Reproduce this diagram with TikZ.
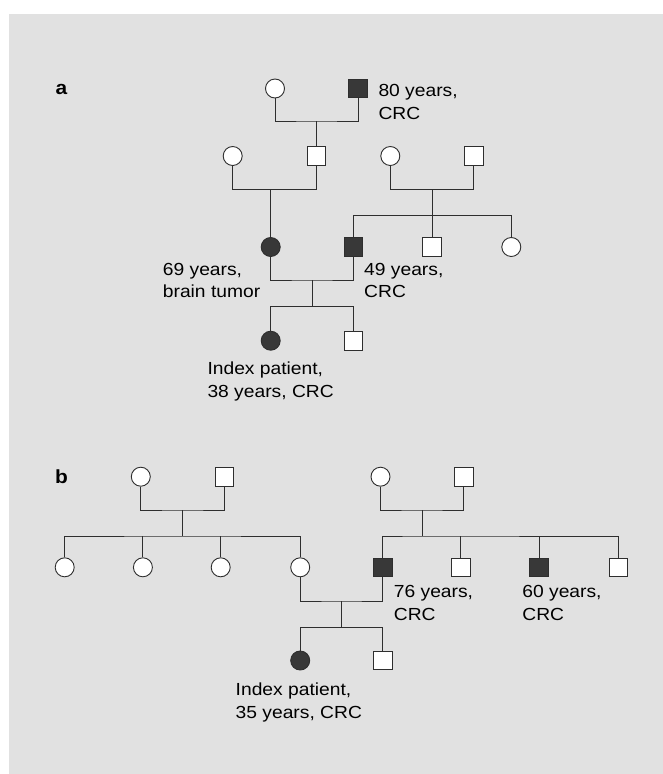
\documentclass[tikz,border=0pt]{standalone}
\usepackage{fontspec}
\newfontfamily\labfont[FakeStretch=1.1]{Liberation Sans}
\definecolor{bg}{HTML}{E1E1E1}
\definecolor{aff}{HTML}{383838}
\definecolor{ln}{HTML}{2E2E2E}
\begin{document}
\begin{tikzpicture}[x=1pt,y=-1pt,
  link/.style={line width=0.9pt, draw=ln},
  female/.style={circle, draw=ln, line width=0.9pt, fill=white, minimum size=19pt, inner sep=0pt},
  male/.style={rectangle, draw=ln, line width=0.9pt, fill=white, minimum size=18.5pt, inner sep=0pt},
  affected/.style={fill=aff},
  lab/.style={font=\labfont\fontsize{17.5}{22.6}\selectfont, align=left, anchor=west, inner sep=0pt},
  panel/.style={font=\labfont\fontsize{19}{22.6}\selectfont\bfseries, anchor=base west, inner sep=0pt}]
\useasboundingbox (0,0) rectangle (663,774);
\fill[bg, draw=none] (9,14) rectangle (663,774);

% ---------------- panel a ----------------
\node[panel] (la) at (55.5,94.3) {a};
\node[female] (a1) at (275,88.5) {};
\node[male,affected] (a2) at (358,88.5) {};
\node[female] (a3) at (232.7,156) {};
\node[male] (a4) at (316.3,156) {};
\node[female] (a5) at (390.3,156) {};
\node[male] (a6) at (473.7,156) {};
\node[female,affected] (a7) at (270.7,247) {};
\node[male,affected] (a8) at (353.3,247) {};
\node[male] (a9) at (432,247) {};
\node[female] (a10) at (511.3,247) {};
\node[female,affected] (a11) at (270.7,340.7) {};
\node[male] (a12) at (353.3,340.7) {};

\coordinate (m1) at (316.3,121);
\coordinate (m2) at (270.7,189.3);
\coordinate (m3) at (432,189.3);
\coordinate (s1) at (432,215.7);
\coordinate (m4) at (312.3,280);
\coordinate (s2) at (312.3,306.7);

\draw[link] (a1.south) |- (m1) -| (a2.south);
\draw[link] (m1) -- (a4.north);
\draw[link] (a3.south) |- (m2) -| (a4.south);
\draw[link] (m2) -- (a7.north);
\draw[link] (a5.south) |- (m3) -| (a6.south);
\draw[link] (m3) -- (s1);
\draw[link] (a8.north) |- (s1) -| (a10.north);
\draw[link] (s1) -- (a9.north);
\draw[link] (a7.south) |- (m4) -| (a8.south);
\draw[link] (m4) -- (s2);
\draw[link] (a11.north) |- (s2) -| (a12.north);

\node[lab] (t1) at (378.3,103.5) {\strut 80 years,\\\strut CRC};
\node[lab] (t2) at (162.7,281.8) {\strut 69 years,\\\strut brain tumor};
\node[lab] (t3) at (364,281.8) {\strut 49 years,\\\strut CRC};
\node[lab] (t4) at (207.3,381.3) {\strut Index patient,\\\strut 38 years, CRC};

% ---------------- panel b ----------------
\node[panel] (lb) at (55,483) {b};
\node[female] (b1) at (140.8,476.7) {};
\node[male] (b2) at (224.5,476.7) {};
\node[female] (b3) at (380.5,476.7) {};
\node[male] (b4) at (463.8,476.7) {};
\node[female] (c1) at (64.7,567.3) {};
\node[female] (c2) at (142.9,567.3) {};
\node[female] (c3) at (220.7,567.3) {};
\node[female] (c4) at (300.2,567.3) {};
\node[male,affected] (c5) at (382.7,567.3) {};
\node[male] (c6) at (460.9,567.3) {};
\node[male,affected] (c7) at (539.1,567.3) {};
\node[male] (c8) at (618.2,567.3) {};
\node[female,affected] (c9) at (300.2,660.5) {};
\node[male] (c10) at (382.7,660.5) {};

\coordinate (m5) at (182.7,510);
\coordinate (m6) at (422,510);
\coordinate (s3) at (182.7,536);
\coordinate (s4) at (422,536);
\coordinate (m7) at (341.6,601);
\coordinate (s5) at (341.6,627.3);

\draw[link] (b1.south) |- (m5) -| (b2.south);
\draw[link] (m5) -- (s3);
\draw[link] (c1.north) |- (s3) -| (c4.north);
\draw[link] (c2.north) -- (c2.north |- s3);
\draw[link] (c3.north) -- (c3.north |- s3);
\draw[link] (b3.south) |- (m6) -| (b4.south);
\draw[link] (m6) -- (s4);
\draw[link] (c5.north) |- (s4) -| (c8.north);
\draw[link] (c6.north) -- (c6.north |- s4);
\draw[link] (c7.north) -- (c7.north |- s4);
\draw[link] (c4.south) |- (m7) -| (c5.south);
\draw[link] (m7) -- (s5);
\draw[link] (c9.north) |- (s5) -| (c10.north);

\node[lab] (t5) at (393.7,604.6) {\strut 76 years,\\\strut CRC};
\node[lab] (t6) at (522.2,604.6) {\strut 60 years,\\\strut CRC};
\node[lab] (t7) at (235.5,702.5) {\strut Index patient,\\\strut 35 years, CRC};
\end{tikzpicture}
\end{document}
